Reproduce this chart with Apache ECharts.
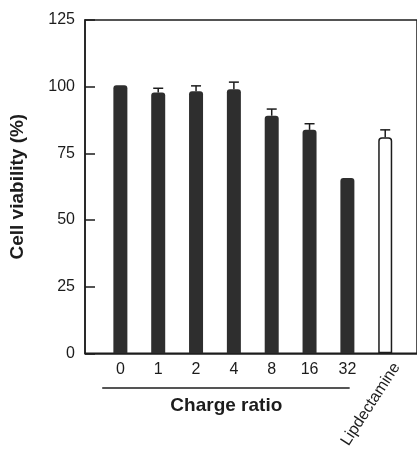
<!DOCTYPE html>
<html>
<head>
<meta charset="utf-8">
<script src="https://cdn.jsdelivr.net/npm/echarts@6/dist/echarts.min.js"></script>
<style>html,body{margin:0;padding:0;background:#fff;}#c{width:417px;height:451px;}</style>
</head>
<body>
<div id="c"></div>
<script>
var categories = ['0', '1', '2', '4', '8', '16', '32', 'Lipdectamine'];
var values = [100.5, 97.8, 98.3, 99, 89.1, 83.8, 65.7, 81];
var errors = [0, 1.6, 2, 2.7, 2.5, 2.3, 0, 2.8];
var yTicks = [0, 25, 50, 75, 100, 125];
var chargeGroup = 7; // first 7 categories are charge ratios

var FONT = "'Liberation Sans', Arial, Helvetica, sans-serif";
var INK = '#1c1c1c';

var barData = values.map(function (v, i) {
  var item = { value: [i, v] };
  if (i >= chargeGroup) {
    item.itemStyle = { color: '#ffffff', borderColor: INK, borderWidth: 1.5 };
  }
  return item;
});
var errData = values.map(function (v, i) { return [i, v, errors[i]]; });

var chart = echarts.init(document.getElementById('c'), null, { renderer: 'canvas' });
var xMin = -0.935, xMax = 7.84;
chart.setOption({
  animation: false,
  backgroundColor: '#ffffff',
  grid: { left: 82, top: 20, bottom: 97, right: -3, show: true, borderColor: INK, borderWidth: 1.5, backgroundColor: 'transparent' },
  xAxis: [{
    type: 'value', min: xMin, max: xMax, position: 'bottom',
    axisLine: { show: true, onZero: false, lineStyle: { color: INK, width: 1.5 } },
    axisTick: { show: false }, splitLine: { show: false },
    axisLabel: {
      customValues: categories.slice(0, chargeGroup).map(function (c, i) { return i; }),
      formatter: function (v) { return categories[Math.round(v)]; },
      fontFamily: FONT, fontSize: 16, color: INK, margin: 8
    }
  }, {
    type: 'value', min: xMin, max: xMax, position: 'bottom', offset: 0,
    axisLine: { show: false, onZero: false }, axisTick: { show: false }, splitLine: { show: false },
    axisLabel: {
      customValues: [chargeGroup + 0.3],
      formatter: function (v) { return categories[Math.round(v - 0.3)]; },
      rotate: 57, fontFamily: FONT, fontSize: 16, color: INK, margin: 11
    }
  }],
  yAxis: {
    type: 'value', min: yTicks[0], max: yTicks[yTicks.length - 1], interval: 25,
    name: 'Cell viability (%)', nameLocation: 'middle', nameGap: 58,
    nameTextStyle: { fontFamily: FONT, fontSize: 19, fontWeight: 'bold', color: INK },
    axisLine: { show: true, onZero: false, lineStyle: { color: INK, width: 1.5 } },
    axisTick: { show: true, inside: true, length: 10, lineStyle: { color: INK, width: 1.5 } },
    splitLine: { show: false },
    axisLabel: { fontFamily: FONT, fontSize: 16, color: INK, margin: 10 }
  },
  series: [{
    type: 'bar', xAxisIndex: 0, barWidth: 14,
    itemStyle: { color: '#2e2e2e', borderRadius: [3, 3, 0, 0] },
    data: barData, z: 2
  }, {
    type: 'custom', xAxisIndex: 0, z: 3,
    renderItem: function (params, api) {
      var x = api.value(0), v = api.value(1), e = api.value(2);
      if (!e) return null;
      var p0 = api.coord([x, v]);
      var p1 = api.coord([x, v + e]);
      var style = { stroke: INK, lineWidth: 1.5 };
      return { type: 'group', children: [
        { type: 'line', shape: { x1: p0[0], y1: p0[1], x2: p1[0], y2: p1[1] }, style: style },
        { type: 'line', shape: { x1: p1[0] - 5, y1: p1[1], x2: p1[0] + 5, y2: p1[1] }, style: style }
      ]};
    },
    data: errData
  }]
});

var xl = chart.convertToPixel({ xAxisIndex: 0 }, -0.48);
var xr = chart.convertToPixel({ xAxisIndex: 0 }, chargeGroup - 0.94);
var xm = chart.convertToPixel({ xAxisIndex: 0 }, 2.8);
chart.setOption({
  graphic: [
    { type: 'line', shape: { x1: xl, y1: 388, x2: xr, y2: 388 }, style: { stroke: INK, lineWidth: 1.6 } },
    { type: 'text', x: xm, y: 406, style: { text: 'Charge ratio', font: 'bold 19px ' + FONT, fill: INK, align: 'center', verticalAlign: 'middle' } }
  ]
});
</script>
</body>
</html>
